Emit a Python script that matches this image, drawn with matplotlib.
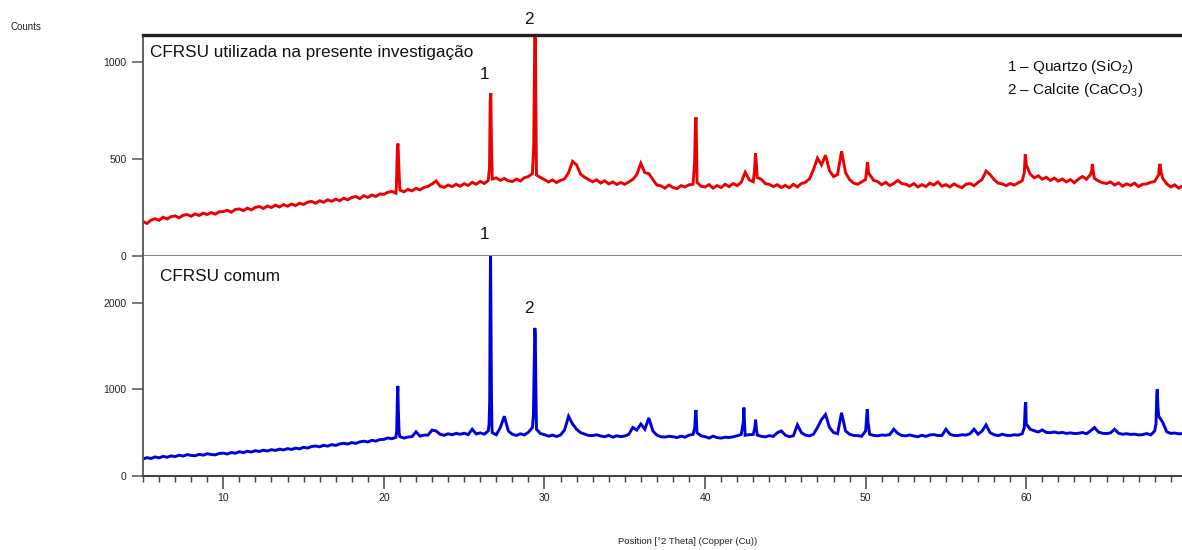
import numpy as np
import matplotlib
matplotlib.use("Agg")
import matplotlib.pyplot as plt
from matplotlib.ticker import MultipleLocator

# ---- diffraction data (2θ in degrees, intensity in counts) ----
two_theta = np.arange(5.0, 70.0, 0.25)

red_background = [
    178, 168, 185, 192, 184, 200, 191, 203, 207, 197, 210, 214, 205, 217, 209, 221, 214, 224, 216, 228,
    229, 236, 226, 240, 243, 234, 247, 238, 251, 255, 245, 258, 250, 262, 253, 265, 257, 268, 260, 272,
    266, 277, 282, 272, 285, 277, 290, 282, 293, 285, 298, 290, 302, 307, 296, 311, 302, 315, 307, 320,
    318, 329, 333, 324, 340, 331, 344, 336, 349, 341, 354, 359, 372, 387, 360, 354, 366, 358, 370, 360,
    373, 364, 380, 370, 385, 374, 390, 397, 403, 390, 400, 388, 384, 397, 387, 404, 410, 425, 418, 405,
    394, 382, 392, 379, 390, 398, 430, 488, 470, 422, 406, 394, 383, 393, 376, 388, 372, 382, 369, 379,
    370, 382, 395, 420, 478, 430, 425, 394, 366, 362, 350, 366, 354, 347, 363, 356, 367, 370, 380, 360,
    356, 368, 350, 363, 353, 370, 358, 374, 363, 380, 432, 392, 383, 404, 396, 373, 370, 358, 368, 353,
    364, 352, 370, 356, 374, 380, 398, 445, 505, 470, 520, 440, 410, 420, 540, 430, 394, 376, 370, 382,
    395, 420, 390, 384, 368, 380, 363, 374, 390, 374, 370, 360, 374, 356, 368, 358, 376, 366, 382, 360,
    368, 356, 372, 360, 353, 370, 374, 363, 380, 395, 438, 420, 394, 376, 372, 363, 374, 366, 377, 388,
    470, 422, 403, 414, 396, 406, 390, 402, 386, 397, 382, 394, 378, 397, 410, 396, 420, 400, 387, 378,
    374, 382, 366, 377, 360, 372, 364, 376, 358, 370, 372, 380, 385, 420, 400, 372, 356, 367, 350, 362,
]
red_peak_x = [20.78, 20.84, 20.88, 20.95,
              26.58, 26.62, 26.66, 26.70,
              29.33, 29.38, 29.41, 29.44, 29.48,
              39.35, 39.40, 39.44, 39.48,
              43.08, 43.14, 43.20,
              50.06, 50.12, 50.18,
              59.88, 59.94, 59.97,
              64.08, 64.12, 64.18,
              68.28, 68.33, 68.40]
red_peak_y = [360, 560, 580, 420,
              460, 800, 840, 560,
              560, 1000, 1180, 1060, 600,
              480, 690, 715, 520,
              440, 530, 470,
              440, 485, 430,
              430, 525, 505,
              440, 475, 430,
              455, 475, 430]

blue_background = [
    196, 212, 202, 220, 210, 226, 217, 232, 224, 240, 230, 247, 238, 234, 250, 241, 257, 248, 244, 260,
    264, 254, 272, 263, 280, 270, 286, 277, 292, 283, 298, 289, 304, 295, 310, 301, 316, 307, 322, 313,
    332, 323, 340, 346, 337, 354, 345, 362, 353, 370, 378, 369, 386, 377, 394, 402, 393, 412, 403, 420,
    423, 440, 430, 447, 454, 438, 450, 454, 510, 460, 472, 473, 530, 520, 482, 470, 487, 476, 492, 482,
    494, 478, 540, 486, 498, 483, 520, 500, 476, 560, 690, 520, 482, 468, 487, 474, 505, 560, 540, 490,
    477, 460, 472, 456, 474, 530, 690, 600, 540, 500, 484, 468, 467, 476, 462, 453, 470, 448, 464, 454,
    462, 480, 560, 530, 600, 540, 670, 520, 472, 453, 450, 458, 454, 443, 460, 448, 472, 480, 500, 463,
    454, 438, 460, 443, 438, 448, 444, 453, 464, 480, 470, 477, 480, 472, 458, 452, 466, 457, 500, 520,
    472, 453, 464, 590, 500, 472, 463, 482, 560, 650, 710, 560, 502, 488, 730, 520, 482, 468, 467, 458,
    520, 482, 468, 464, 473, 470, 478, 540, 492, 468, 464, 473, 462, 453, 470, 458, 474, 478, 467, 468,
    540, 482, 468, 467, 476, 472, 488, 540, 482, 520, 590, 500, 477, 466, 482, 470, 467, 476, 472, 488,
    600, 540, 522, 508, 532, 503, 500, 508, 497, 503, 492, 498, 490, 493, 502, 488, 520, 560, 507, 493,
    490, 498, 540, 493, 482, 488, 480, 483, 474, 478, 490, 474, 520, 690, 620, 510, 492, 496, 487, 490,
]
blue_peak_x = [20.80, 20.84, 20.87, 20.90, 20.95,
               26.55, 26.59, 26.61, 26.64, 26.67, 26.70, 26.73,
               29.31, 29.36, 29.40, 29.43, 29.46, 29.49,
               39.36, 39.41, 39.44, 39.48,
               42.38, 42.42, 42.46,
               43.10, 43.15, 43.20,
               50.05, 50.10, 50.15,
               59.88, 59.94, 59.97,
               68.08, 68.13, 68.16, 68.20]
blue_peak_y = [520, 900, 1040, 760, 500,
               600, 880, 1750, 2620, 1700, 900, 560,
               700, 1300, 1710, 1620, 1100, 700,
               560, 740, 760, 560,
               620, 790, 600,
               560, 650, 540,
               640, 770, 620,
               560, 820, 850,
               600, 940, 1000, 800]

top_label = "CFRSU utilizada na presente investigação"
bottom_label = "CFRSU comum"
phase_labels = ["1 \u2013 Quartzo (SiO$_2$)", "2 \u2013 Calcite (CaCO$_3$)"]
quartz_pos, calcite_pos = 26.64, 29.41
top_marker_y = [900, 1180]      # label heights for peaks 1 and 2, top pattern
bottom_marker_y = [2700, 1850]  # label heights for peaks 1 and 2, bottom pattern


def merged(bg, px, py):
    x = np.concatenate([two_theta, px])
    y = np.concatenate([np.asarray(bg, float), py])
    order = np.argsort(x, kind="stable")
    return x[order], y[order]


plt.rcParams["font.family"] = ["Liberation Sans", "DejaVu Sans"]
plt.rcParams["mathtext.fontset"] = "custom"
plt.rcParams["mathtext.rm"] = "Liberation Sans"
plt.rcParams["mathtext.it"] = "Liberation Sans:italic"
narrow = ["Liberation Sans Narrow", "Liberation Sans", "DejaVu Sans"]

fig = plt.figure(figsize=(11.82, 5.5), dpi=100)
W, H = 1182, 550
left = 143 / W
ax_top = fig.add_axes([left, 1 - 256 / H, 1 - left, 221 / H])
ax_bot = fig.add_axes([left, 1 - 476 / H, 1 - left, 220 / H])

rx, ry = merged(red_background, red_peak_x, red_peak_y)
bx, by = merged(blue_background, blue_peak_x, blue_peak_y)
ax_top.plot(rx, ry, color="#ec0000", lw=2.1, solid_joinstyle="miter")
ax_bot.plot(bx, by, color="#0000de", lw=2.1, solid_joinstyle="miter")

spine_gray = "#555555"
for ax in (ax_top, ax_bot):
    ax.set_xlim(5, 69.7)
    ax.spines["right"].set_visible(False)
    ax.spines["left"].set_color(spine_gray)
    ax.spines["left"].set_linewidth(1.3)
    ax.tick_params(axis="y", direction="out", length=8, width=1.1, color=spine_gray,
                   labelsize=7.5, pad=4, labelcolor="#222222")

ax_top.set_ylim(0, 1140)
ax_top.set_yticks([0, 500, 1000])
ax_top.spines["top"].set_linewidth(2.4)
ax_top.spines["top"].set_color("#222222")
ax_top.spines["bottom"].set_color("#777777")
ax_top.spines["bottom"].set_linewidth(1.3)
ax_top.set_xticks([])

ax_bot.set_ylim(0, 2540)
ax_bot.set_yticks([0, 1000, 2000])
ax_bot.spines["top"].set_visible(False)
ax_bot.spines["bottom"].set_color("#444444")
ax_bot.spines["bottom"].set_linewidth(1.5)
ax_bot.xaxis.set_major_locator(MultipleLocator(10))
ax_bot.xaxis.set_minor_locator(MultipleLocator(1))
ax_bot.tick_params(axis="x", which="major", direction="out", length=9.5, width=1.1,
                   color="#444444", labelsize=7.5, pad=3, labelcolor="#222222")
ax_bot.tick_params(axis="x", which="minor", direction="out", length=4.5, width=1.0,
                   color="#444444")
for ax in (ax_top, ax_bot):
    for t in ax.get_yticklabels() + ax.get_xticklabels():
        t.set_family(narrow)

# panel titles
ax_top.text(0.007, 0.923, top_label, transform=ax_top.transAxes, fontsize=12.3,
            va="center", ha="left", color="#111111")
ax_bot.text(0.016, 0.905, bottom_label, transform=ax_bot.transAxes, fontsize=12.3,
            va="center", ha="left", color="#111111")

# phase key
ax_top.text(0.832, 0.855, phase_labels[0], transform=ax_top.transAxes, fontsize=11,
            va="center", ha="left", color="#111111")
ax_top.text(0.832, 0.75, phase_labels[1], transform=ax_top.transAxes, fontsize=11,
            va="center", ha="left", color="#111111")

# peak markers
for ax, ys in ((ax_top, top_marker_y), (ax_bot, bottom_marker_y)):
    for num, (pos, yv) in enumerate(zip([quartz_pos, calcite_pos], ys), start=1):
        ax.text(pos - 0.35, yv, str(num), fontsize=12.3, ha="center", va="bottom",
                color="#111111", clip_on=False)

fig.text(26 / W, 1 - 27 / H, "Counts", fontsize=7, ha="center", va="center",
         color="#222222", family=narrow)
fig.text(688 / W, 1 - 541 / H, "Position [\u00b02 Theta] (Copper (Cu))", fontsize=6.8,
         ha="center", va="center", color="#222222", family=narrow)

fig.savefig("out.png", dpi=100)
